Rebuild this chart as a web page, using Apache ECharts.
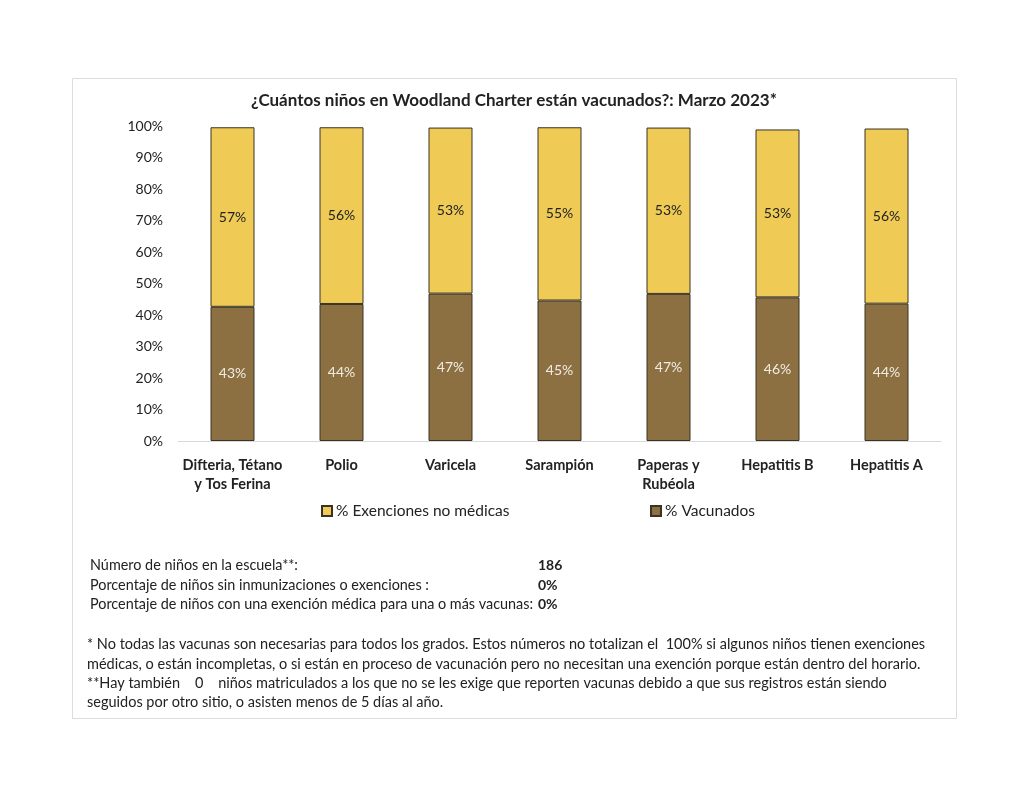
<!DOCTYPE html>
<html>
<head>
<meta charset="utf-8">
<script src="https://cdn.jsdelivr.net/npm/echarts@6/dist/echarts.min.js"></script>
<style>
html,body{margin:0;padding:0;background:#fff;}
#chart{width:1024px;height:791px;}
</style>
</head>
<body>
<div id="chart"></div>
<script>
const categories = ['Difteria, Tétano\ny Tos Ferina', 'Polio', 'Varicela', 'Sarampión', 'Paperas y\nRubéola', 'Hepatitis B', 'Hepatitis A'];
const vacunados = [42.6, 43.5, 46.8, 44.6, 46.7, 45.6, 43.6];
const exenciones = [57.0, 56.1, 52.7, 55.0, 52.8, 53.3, 55.6];
const yTicks = [0, 10, 20, 30, 40, 50, 60, 70, 80, 90, 100];
const seriesNames = ['% Vacunados', '% Exenciones no médicas'];
const titleText = '¿Cuántos niños en Woodland Charter están vacunados?: Marzo 2023*';
const statsLabels = [
  'Número de niños en la escuela**:',
  'Porcentaje de niños sin inmunizaciones o exenciones :',
  'Porcentaje de niños con una exención médica para una o más vacunas:'
];
const statsValues = ['186', '0%', '0%'];
const footnotes = [
  '* No todas las vacunas son necesarias para todos los grados. Estos números no totalizan el  100% si algunos niños tienen exenciones',
  'médicas, o están incompletas, o si están en proceso de vacunación pero no necesitan una exención porque están dentro del horario.',
  '**Hay también    0    niños matriculados a los que no se les exige que reporten vacunas debido a que sus registros están siendo',
  'seguidos por otro sitio, o asisten menos de 5 días al año.'
];

const FONT = 'Lato';
const YELLOW = '#EFCB55';
const BROWN = '#8C7042';

const chart = echarts.init(document.getElementById('chart'), null, {renderer: 'canvas'});

const graphics = [
  {type: 'rect', shape: {x: 72.5, y: 78.5, width: 884, height: 640}, style: {fill: 'none', stroke: '#dcdcdc', lineWidth: 1}, z: -1},
  {type: 'text', x: 514, y: 101, style: {text: titleText, font: 'bold 17px ' + FONT, fill: '#222', align: 'center', verticalAlign: 'middle'}}
];

const statsY = [565, 585, 604];
statsLabels.forEach((t, i) => {
  graphics.push({type: 'text', x: 90, y: statsY[i], style: {text: t, font: '14.4px ' + FONT, fill: '#222', verticalAlign: 'middle'}});
  graphics.push({type: 'text', x: 538, y: statsY[i], style: {text: statsValues[i], font: 'bold 14px ' + FONT, fill: '#222', verticalAlign: 'middle'}});
});
const footY = [644, 664, 683, 702];
footnotes.forEach((t, i) => {
  graphics.push({type: 'text', x: 87, y: footY[i], style: {text: t, font: '14.5px ' + FONT, fill: '#222', verticalAlign: 'middle'}});
});

const labelFmt = p => Math.round(p.value) + '%';

chart.setOption({
  animation: false,
  backgroundColor: '#fff',
  grid: {left: 178, right: 83, top: 126, bottom: 350, containLabel: false},
  legend: [
    {data: [seriesNames[1]], left: 321, top: 503, padding: 0, itemWidth: 10, itemHeight: 10, icon: 'rect', itemGap: 4,
     textStyle: {fontFamily: FONT, fontSize: 15.5, color: '#222', padding: [0, 0, 0, -1]}},
    {data: [seriesNames[0]], left: 650, top: 503, padding: 0, itemWidth: 10, itemHeight: 10, icon: 'rect', itemGap: 4,
     textStyle: {fontFamily: FONT, fontSize: 15.5, color: '#222', padding: [0, 0, 0, -1]}}
  ],
  xAxis: {
    type: 'category', data: categories,
    axisLine: {lineStyle: {color: '#d9d9d9', width: 1}},
    axisTick: {show: false},
    axisLabel: {fontFamily: FONT, fontWeight: 'bold', fontSize: 14.5, color: '#222', lineHeight: 19, margin: 15, interval: 0}
  },
  yAxis: {
    type: 'value', min: 0, max: 100, interval: 10,
    splitLine: {show: false},
    axisLine: {show: false}, axisTick: {show: false},
    axisLabel: {fontFamily: FONT, fontSize: 14, color: '#222', margin: 15, formatter: v => v + '%'}
  },
  series: [
    {name: seriesNames[0], type: 'bar', stack: 's', data: vacunados, barWidth: 44,
     itemStyle: {color: BROWN, borderColor: '#3a3226', borderWidth: 1},
     label: {show: true, position: 'inside', formatter: labelFmt, fontFamily: FONT, fontSize: 14, color: '#f0ece4'}},
    {name: seriesNames[1], type: 'bar', stack: 's', data: exenciones, barWidth: 44,
     itemStyle: {color: YELLOW, borderColor: '#3a3226', borderWidth: 1},
     label: {show: true, position: 'inside', formatter: labelFmt, fontFamily: FONT, fontSize: 14, color: '#222'}}
  ],
  graphic: graphics
});
</script>
</body>
</html>
